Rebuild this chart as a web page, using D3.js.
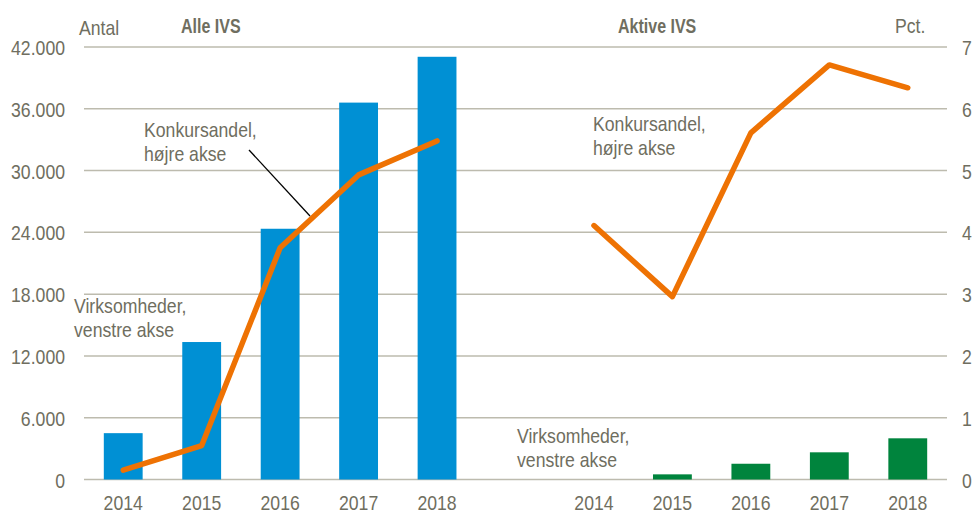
<!DOCTYPE html>
<html>
<head>
<meta charset="utf-8">
<script src="https://cdn.jsdelivr.net/npm/d3@7"></script>
<style>
  body { margin: 0; background: #fff; }
  text { font-family: "Liberation Sans Narrow", "Arial Narrow", "Liberation Sans", sans-serif; fill: #6f6e60; }
  .tick text { font-size: 21px; }
  .lbl { font-size: 21px; }
  .title { font-size: 20px; font-weight: bold; }
</style>
</head>
<body>
<svg id="svg1" width="976" height="513"></svg>
<script>
const svg1 = d3.select('#svg1');

// 11 slots: left panel, an empty gap, right panel
const slots = ['a2014', 'a2015', 'a2016', 'a2017', 'a2018', 'gap', 'b2014', 'b2015', 'b2016', 'b2017', 'b2018'];
const years = ['2014', '2015', '2016', '2017', '2018'];

// Alle IVS
const alleCount = [4500, 13350, 24350, 36600, 41050];
const alleShare = [0.15, 0.55, 3.75, 4.93, 5.48];
// Aktive IVS
const aktiveCount = [0, 500, 1530, 2640, 4000];
const aktiveShare = [4.11, 2.96, 5.61, 6.71, 6.34];

const leftTicks = [0, 6000, 12000, 18000, 24000, 30000, 36000, 42000];
const rightTicks = [0, 1, 2, 3, 4, 5, 6, 7];

const xScale = d3.scaleBand().domain(slots).range([84, 947]).paddingInner(0.5).paddingOuter(0.25);
const yLeft = d3.scaleLinear().domain([0, 42000]).range([479.5, 47]);
const yRight = d3.scaleLinear().domain([0, 7]).range([479.5, 47]);

const fmt = d => d3.format(',')(d).replace(/,/g, '.');

// squeeze text horizontally, the original uses a narrow font
const condense = (sel, k) => sel.each(function() {
  const w = this.getComputedTextLength();
  if (w > 0) d3.select(this).attr('textLength', w * k).attr('lengthAdjust', 'spacingAndGlyphs');
});

// gridlines
svg1.append('g').selectAll('line').data(leftTicks).enter().append('line')
  .attr('x1', 84).attr('x2', 947)
  .attr('y1', d => yLeft(d)).attr('y2', d => yLeft(d))
  .attr('stroke', '#bdbbae').attr('stroke-width', 1.5);

const yAxisL = svg1.append('g').attr('transform', 'translate(84,0)')
  .call(d3.axisLeft(yLeft).tickValues(leftTicks).tickFormat(fmt).tickSize(0).tickPadding(19));
yAxisL.select('.domain').remove();
yAxisL.selectAll('.tick text').attr('dy', '0.36em');

const yAxisR = svg1.append('g').attr('transform', 'translate(947,0)')
  .call(d3.axisRight(yRight).tickValues(rightTicks).tickFormat(d3.format('d')).tickSize(0).tickPadding(15));
yAxisR.select('.domain').remove();
yAxisR.selectAll('.tick text').attr('dy', '0.36em');

const xAxis = svg1.append('g').attr('transform', 'translate(0,479.5)')
  .call(d3.axisBottom(xScale).tickSize(0).tickPadding(16)
    .tickFormat(d => d === 'gap' ? '' : d.slice(1)));
xAxis.select('.domain').remove();

const bw = xScale.step() * 0.495;
const slotX = (prefix, i) => xScale(prefix + years[i]) + xScale.bandwidth() / 2;

// bars
svg1.append('g').selectAll('rect').data(alleCount).enter().append('rect')
  .attr('x', (d, i) => slotX('a', i) - bw / 2)
  .attr('width', bw)
  .attr('y', d => yLeft(d))
  .attr('height', d => yLeft(0) - yLeft(d))
  .attr('fill', '#0090d4');

svg1.append('g').selectAll('rect').data(aktiveCount).enter().append('rect')
  .attr('x', (d, i) => slotX('b', i) - bw / 2)
  .attr('width', bw)
  .attr('y', d => yLeft(d))
  .attr('height', d => yLeft(0) - yLeft(d))
  .attr('fill', '#00843d');

// lines
const lineA = d3.line().x((d, i) => slotX('a', i)).y(d => yRight(d));
const lineB = d3.line().x((d, i) => slotX('b', i)).y(d => yRight(d));

svg1.append('path').attr('d', lineA(alleShare))
  .attr('fill', 'none').attr('stroke', '#ee7203').attr('stroke-width', 5.5)
  .attr('stroke-linecap', 'round').attr('stroke-linejoin', 'round');
svg1.append('path').attr('d', lineB(aktiveShare))
  .attr('fill', 'none').attr('stroke', '#ee7203').attr('stroke-width', 5.5)
  .attr('stroke-linecap', 'round').attr('stroke-linejoin', 'round');

// leader line
svg1.append('line').attr('x1', 249).attr('y1', 150).attr('x2', 310).attr('y2', 216)
  .attr('stroke', '#000').attr('stroke-width', 1.3);

// texts
const label = (x, y, lines, cls) => {
  lines.forEach((s, i) => svg1.append('text').attr('class', cls || 'lbl')
    .attr('x', x).attr('y', y + i * 24).text(s));
};
label(79, 35, ['Antal']);
label(181, 33, ['Alle IVS'], 'title');
label(618, 33, ['Aktive IVS'], 'title');
label(895, 33, ['Pct.']);
label(144, 137, ['Konkursandel,', 'højre akse']);
label(74, 313, ['Virksomheder,', 'venstre akse']);
label(593, 131, ['Konkursandel,', 'højre akse']);
label(517, 443, ['Virksomheder,', 'venstre akse']);

condense(svg1.selectAll('text.lbl, .tick text'), 0.84);
condense(svg1.selectAll('text.title'), 0.8);
</script>
</body>
</html>
